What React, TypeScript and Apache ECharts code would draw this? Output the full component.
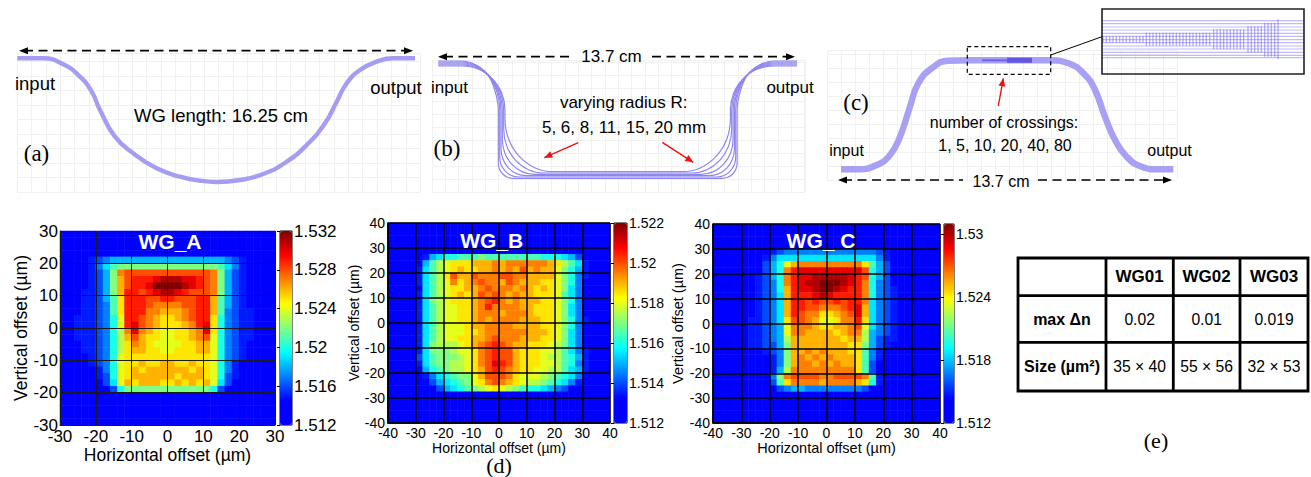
import React, { useEffect, useRef } from "react";
import * as echarts from "echarts";

const SANS = "Liberation Sans";
const SERIF = "Liberation Serif";

// ---- schematic waveguide outlines ----
const wgPathA = [[0.3,133.7],[26.3,133.7],[46.3,127.7],[63,115.3],[74.7,100.3],[83,82],[98,55.3],[116.3,38.7],[139.7,23.7],[163,15.3],[183,11.3],[199.7,10],[223,12],[246.3,18],[269.7,30.3],[289.7,47],[308,68.7],[319.7,90.3],[329.7,108.7],[343,122],[359.7,130.3],[376.3,133.7],[398,133.7]];

const wgPathsB = [
  [[6.3,131],[30,131],[44,127],[56,117],[63,101],[66.3,82],[66.3,28.7],[67.4,23],[70.7,18],[75.6,14.8],[81.3,13.7],[290.1,13.7],[295.8,14.8],[300.7,18],[304,23],[305.1,28.7],[305.1,82],[308.4,101],[315.4,117],[327.4,127],[341.4,131],[365.1,131]],
  [[6.3,130],[30,130],[44.4,126.4],[56.7,116],[64.8,100.4],[67.7,82],[67.7,35],[69.1,27.3],[73.3,20.9],[79.4,16.5],[86.7,15],[284.7,15],[292,16.5],[298.1,20.9],[302.3,27.3],[303.7,35],[303.7,82],[306.6,100.4],[314.7,116],[327,126.4],[341.4,130],[365.1,130]],
  [[6.3,129],[30,129],[45,125.4],[57.6,115.2],[66,100],[69,82],[69,43.3],[70.9,33],[76.3,24.2],[84.4,18.4],[94,16.3],[277.4,16.3],[287,18.4],[295.1,24.2],[300.5,33],[302.4,43.3],[302.4,82],[305.4,100],[313.8,115.2],[326.4,125.4],[341.4,129],[365.1,129]],
  [[6.3,128],[30,128],[45.4,124.5],[58.5,114.5],[67.2,99.6],[70.3,82],[70.3,52.7],[72.7,39.3],[79.7,27.9],[90,20.4],[102.3,17.7],[269.1,17.7],[281.4,20.4],[291.7,27.9],[298.7,39.3],[301.1,52.7],[301.1,82],[304.2,99.6],[312.9,114.5],[326,124.5],[341.4,128],[365.1,128]],
  [[6.3,127],[30,127],[46,123.6],[59.5,113.8],[68.5,99.2],[71.7,82],[71.7,63],[74.7,46.1],[83.4,31.9],[96.4,22.3],[111.7,19],[259.7,19],[275,22.3],[288,31.9],[296.7,46.1],[299.7,63],[299.7,82],[302.9,99.2],[311.9,113.8],[325.4,123.6],[341.4,127],[365.1,127]],
  [[6.3,126],[30,126],[46.5,122.7],[60.4,113],[69.7,98.9],[73,82],[73,73.3],[76.6,53],[87.1,35.8],[102.6,24.3],[121,20.3],[250.4,20.3],[268.8,24.3],[284.3,35.8],[294.8,53],[298.4,73.3],[298.4,82],[301.7,98.9],[311,113],[324.9,122.7],[341.4,126],[365.1,126]],
];

const wgPathC = [[14,10.7],[31.3,10.7],[49.7,15],[63,25],[73,43.3],[83,73.3],[91.3,96.7],[104.7,111.7],[121.3,119.3],[141.3,119.7],[221.3,119.7],[241.3,116.7],[258,105],[268,90],[278,63.3],[288,40],[299.7,23.3],[314.7,13.3],[331.3,10.7],[346.3,10.7]];
const crossThin = [[155,119.7],[180,119.7]];
const crossThick = [[180,119.7],[205,119.7]];

// inset of panel (c): waveguide levels and crossing bars
const insetLevels = [53.3,50.3,47,44,40.7,37.7,34.3,31.3,28,25,21.7,18.7,16.3];
const insetXs = [
  [1,4.3,7.7,11,14.3,17.7,21,24.3,27.7,31,34.3,37.7,41],
  [44.3,47.7,51,54.3,57.7,61,64.3,67.7,71,74.3,77.7,81,84.3,87.7,91,94.3,97.7,101,104.3,107.7],
  [111.7,115,118.3,121.7,125,128.3,131.7,135,138.3,141.7],
  [146,149.3,152.7,156,159.3],
  [162.7,166,169.3,172.7],
  [176],
];
const insetSpans = [[31.3,38],[28.3,41.3],[24.7,44.7],[21.3,48],[17.3,51.3],[14.7,54.7]];

// ---- refractive index maps, in steps above 1.512, rows from the top ----
const mapA = [
[0,0,0,0,0,0,0,0,0,0,0,0,0,0,0,0,0,0,0,0,0,0,0,0,0,0,0,0,0,0],
[0,0,0,0,0,0,0,0,0,0,0,0,0,0,0,0,0,0,0,0,0,0,0,0,0,0,0,0,0,0],
[0,0,0,0,0,0,0,0,0,0,0,0,0,0,0,0,0,0,0,0,0,0,0,0,0,0,0,0,0,0],
[0,0,0,0,0,1,2,2,2,2,2,2,2,2,2,2,2,2,2,2,2,2,2,2,1,0,0,0,0,0],
[0,0,0,1,3,4,5,6,6,6,6,6,6,6,6,6,6,6,6,6,6,6,6,5,4,3,1,0,0,0],
[0,0,0,2,3,5,7,9,10,10,10,10,10,10,10,10,10,10,10,10,10,10,9,7,5,3,2,0,0,0],
[0,0,1,2,3,4,6,10,15,16,16,16,16,16,16,16,16,16,16,16,16,15,10,6,4,3,2,1,0,0],
[0,0,1,2,3,4,6,10,14,16,17,17,17,18,19,19,19,18,18,17,16,15,10,6,4,3,2,1,0,0],
[0,0,1,2,3,4,6,10,14,16,17,17,18,20,20,20,20,19,18,17,16,15,10,6,4,3,2,1,0,0],
[0,1,2,3,3,4,6,10,14,17,17,16,17,18,19,19,18,17,16,16,16,15,10,6,4,3,2,1,0,0],
[0,1,2,3,3,4,6,9,13,17,17,17,16,16,17,17,16,16,16,17,17,14,9,6,4,3,2,1,0,0],
[1,2,2,3,3,4,5,9,13,17,17,17,16,15,15,15,15,16,16,17,17,14,9,6,4,3,2,1,0,0],
[2,2,2,3,3,4,5,9,13,17,17,17,15,15,14,14,14,15,16,17,17,14,9,5,4,3,3,2,1,0],
[2,2,3,3,3,4,5,8,12,17,17,16,15,14,13,13,14,15,16,17,17,13,8,5,4,3,3,2,1,0],
[2,2,3,3,3,4,5,8,12,17,18,16,15,14,13,13,13,14,15,17,18,13,8,5,4,3,3,2,2,1],
[2,2,3,3,3,4,5,8,11,15,18,15,14,13,12,12,13,13,14,15,18,13,8,5,4,3,3,2,2,1],
[2,2,3,3,3,4,5,8,11,14,16,14,13,13,12,12,13,13,14,15,16,12,8,5,4,3,3,2,2,1],
[1,2,2,3,3,4,5,8,11,13,15,14,13,12,12,12,12,13,13,14,14,12,8,5,4,3,2,2,1,1],
[0,1,2,3,3,4,5,8,11,13,14,14,13,13,12,12,13,13,13,14,14,12,8,5,4,3,2,1,0,0],
[0,0,1,2,3,4,5,8,12,13,13,13,13,13,13,13,13,13,13,13,13,12,8,5,4,3,2,1,0,0],
[0,0,1,2,3,4,5,8,12,13,13,14,13,13,14,14,13,13,14,13,13,12,8,5,3,2,1,0,0,0],
[0,0,0,1,2,3,5,8,12,13,14,13,14,14,14,14,14,14,13,14,13,12,8,5,3,2,1,0,0,0],
[0,0,0,1,2,3,4,8,12,13,14,14,14,14,14,14,13,14,14,14,13,12,8,4,3,2,0,0,0,0],
[0,0,0,0,1,2,4,7,12,14,13,14,14,14,13,13,14,13,14,13,14,12,7,4,2,1,0,0,0,0],
[0,0,0,0,0,1,2,4,8,10,10,10,10,10,10,10,10,10,10,10,10,8,4,2,1,0,0,0,0,0],
[0,0,0,0,0,0,0,0,0,0,0,0,0,0,0,0,0,0,0,0,0,0,0,0,0,0,0,0,0,0],
[0,0,0,0,0,0,0,0,0,0,0,0,0,0,0,0,0,0,0,0,0,0,0,0,0,0,0,0,0,0],
[0,0,0,0,0,0,0,0,0,0,0,0,0,0,0,0,0,0,0,0,0,0,0,0,0,0,0,0,0,0],
[0,0,0,0,0,0,0,0,0,0,0,0,0,0,0,0,0,0,0,0,0,0,0,0,0,0,0,0,0,0],
[0,0,0,0,0,0,0,0,0,0,0,0,0,0,0,0,0,0,0,0,0,0,0,0,0,0,0,0,0,0],
];

const mapB = [
[0,0,0,0,0,0,0,0,0,0,0,0,0,0,0,0,0,0,0,0,0,0,0,0,0,0,0,0,0,0,0,0],
[0,0,0,0,0,0,0,0,0,0,0,0,0,0,0,0,0,0,0,0,0,0,0,0,0,0,0,0,0,0,0,0],
[0,0,0,0,0,0,0,0,0,0,0,0,0,0,0,0,0,0,0,0,0,0,0,0,0,0,0,0,0,0,0,0],
[0,0,0,0,0,0,0,0,0,0,0,0,0,0,0,0,0,0,0,0,0,0,0,0,0,0,0,0,0,0,0,0],
[0,0,0,0,0,0,0,0,0,0,0,0,0,0,0,0,0,0,0,0,0,0,0,0,0,0,0,0,0,0,0,0],
[0,0,0,0,0,3,6,7,8,8,9,9,9,10,9,9,9,9,9,9,9,9,8,8,8,7,6,4,0,0,0,0],
[0,0,0,0,2,6,9,11,12,13,13,13,14,14,14,15,14,15,15,15,15,15,15,14,13,11,9,7,3,0,0,0],
[0,0,0,0,3,7,9,11,12,13,14,13,13,14,14,15,14,15,14,16,14,15,14,14,12,10,8,6,3,0,0,0],
[0,0,0,0,3,7,9,11,13,16,14,14,16,15,15,15,16,16,15,15,14,14,14,14,12,10,8,5,3,0,0,0],
[0,0,0,0,3,7,9,11,12,15,13,14,15,16,15,15,14,16,15,14,14,14,13,13,12,10,8,5,2,0,0,0],
[0,0,0,0,2,7,9,11,12,13,13,14,14,15,16,15,15,15,14,15,14,13,14,13,12,10,7,5,2,0,0,0],
[0,0,0,1,3,7,9,11,12,13,14,13,14,16,15,16,15,14,15,14,14,13,13,13,12,9,7,5,2,0,0,0],
[0,0,0,1,3,7,10,11,12,13,13,13,14,15,16,17,15,14,15,14,14,14,13,13,12,10,8,5,2,0,0,0],
[0,0,0,0,3,7,9,11,12,12,13,13,14,15,17,15,15,15,15,14,14,13,13,13,12,10,7,5,2,0,0,0],
[0,0,0,0,3,7,9,11,12,12,13,13,14,15,15,15,14,15,15,15,14,13,13,13,12,10,7,5,2,0,0,0],
[0,0,0,0,3,7,9,11,12,12,13,13,14,15,14,15,15,15,15,14,14,14,13,13,12,10,8,5,3,0,0,0],
[0,0,0,1,3,7,9,11,12,12,12,13,14,14,15,15,15,15,14,14,14,14,13,13,12,10,8,5,2,0,0,0],
[0,0,0,1,3,7,9,11,12,12,12,13,13,14,15,15,15,15,15,15,14,14,14,13,12,10,7,5,2,0,0,0],
[0,0,0,0,3,7,9,11,12,12,13,13,14,14,15,16,15,15,15,14,14,14,13,13,12,10,7,5,2,0,0,0],
[0,0,0,0,3,7,10,11,11,11,12,13,14,15,16,17,16,15,14,14,13,13,13,12,11,10,7,5,2,0,0,0],
[0,0,0,0,3,7,10,10,10,11,12,12,13,15,16,17,16,16,14,13,13,13,12,12,11,9,7,5,3,0,0,0],
[0,0,0,0,4,7,9,10,10,10,11,12,13,15,16,17,16,16,14,13,13,13,12,11,11,9,8,6,3,0,0,0],
[0,0,0,0,3,7,9,10,10,11,11,12,13,15,16,18,17,16,14,13,13,13,12,12,11,9,8,5,3,0,0,0],
[0,0,0,0,2,6,8,9,10,11,11,12,13,14,16,17,16,15,14,13,13,12,12,11,11,9,7,6,3,0,0,0],
[0,0,0,0,0,3,5,7,8,9,10,10,12,14,16,16,16,15,13,12,12,12,11,10,9,8,7,5,0,0,0,0],
[0,0,0,0,0,2,4,6,7,8,9,10,12,13,15,16,15,14,13,12,11,11,10,9,8,7,5,3,0,0,0,0],
[0,0,0,0,0,0,2,4,6,7,8,9,10,11,12,13,12,11,10,9,8,8,7,6,5,4,2,0,0,0,0,0],
[0,0,0,0,0,0,0,0,0,0,0,0,0,0,0,0,0,0,0,0,0,0,0,0,0,0,0,0,0,0,0,0],
[0,0,0,0,0,0,0,0,0,0,0,0,0,0,0,0,0,0,0,0,0,0,0,0,0,0,0,0,0,0,0,0],
[0,0,0,0,0,0,0,0,0,0,0,0,0,0,0,0,0,0,0,0,0,0,0,0,0,0,0,0,0,0,0,0],
[0,0,0,0,0,0,0,0,0,0,0,0,0,0,0,0,0,0,0,0,0,0,0,0,0,0,0,0,0,0,0,0],
[0,0,0,0,0,0,0,0,0,0,0,0,0,0,0,0,0,0,0,0,0,0,0,0,0,0,0,0,0,0,0,0],
];

const mapC = [
[0,0,0,0,0,0,0,0,0,0,0,0,0,0,0,0,0,0,0,0,0,0,0,0,0,0,0,0,0,0,0,0],
[0,0,0,0,0,0,0,0,0,0,0,0,0,0,0,0,0,0,0,0,0,0,0,0,0,0,0,0,0,0,0,0],
[0,0,0,0,0,0,0,0,0,0,0,0,0,0,0,0,0,0,0,0,0,0,0,0,0,0,0,0,0,0,0,0],
[0,0,0,0,0,0,0,0,0,0,0,0,0,0,0,0,0,0,0,0,0,0,0,0,0,0,0,0,0,0,0,0],
[0,0,0,0,0,0,0,0,3,4,5,5,5,5,5,5,5,5,5,5,5,5,5,4,3,0,0,0,0,0,0,0],
[0,0,0,0,0,0,1,3,5,7,7,7,7,7,7,7,7,7,7,7,7,7,7,5,3,1,0,0,0,0,0,0],
[0,0,0,0,0,0,2,4,6,8,12,14,15,15,15,15,15,15,15,15,15,13,9,6,4,2,0,0,0,0,0,0],
[0,0,0,0,0,0,2,4,6,8,15,17,18,18,18,18,18,18,18,18,18,16,8,6,4,2,0,0,0,0,0,0],
[0,0,0,0,0,1,3,4,6,8,15,17,18,18,19,19,19,19,19,18,17,16,8,6,4,2,1,0,0,0,0,0],
[0,0,0,0,0,1,3,4,5,8,15,17,18,19,19,20,20,20,19,18,17,15,8,5,4,2,1,0,0,0,0,0],
[0,0,0,0,0,1,3,4,5,8,14,17,18,18,19,20,20,19,18,17,17,15,8,5,4,3,1,0,0,0,0,0],
[0,0,0,0,1,2,3,4,5,7,14,17,17,17,18,19,18,17,17,17,17,15,8,5,4,3,2,0,0,0,0,0],
[0,0,0,0,1,2,3,4,5,7,14,17,17,16,17,16,16,17,16,17,17,15,7,5,4,3,2,0,0,0,0,0],
[0,0,0,0,1,2,3,4,5,7,14,17,17,16,16,15,15,15,16,17,18,14,7,5,4,3,2,0,0,0,0,0],
[0,0,0,1,2,2,3,4,5,7,14,17,16,15,15,13,13,14,15,16,18,14,7,5,4,3,2,1,0,0,0,0],
[0,0,0,2,2,3,3,4,5,7,13,16,16,15,14,12,12,13,15,15,17,13,7,5,4,3,2,1,0,0,0,0],
[0,0,0,2,2,3,3,4,5,6,12,15,15,15,14,13,13,14,14,15,16,12,7,5,4,3,2,1,0,0,0,0],
[0,0,0,2,2,3,3,4,5,6,12,15,15,14,14,14,14,13,14,15,15,11,6,5,4,3,2,0,0,0,0,0],
[0,0,0,1,2,3,3,4,5,6,11,14,14,14,14,14,14,14,13,14,14,11,6,4,3,3,1,0,0,0,0,0],
[0,0,0,1,2,3,3,4,4,6,10,14,14,14,14,14,14,14,14,13,13,10,6,4,3,2,0,0,0,0,0,0],
[0,0,0,0,0,1,2,3,4,5,10,14,14,15,14,15,14,14,14,13,13,9,5,3,2,0,0,0,0,0,0,0],
[0,0,0,0,0,0,1,2,3,5,10,14,15,14,15,14,15,14,14,14,13,9,5,3,1,0,0,0,0,0,0,0],
[0,0,0,0,0,0,0,1,3,5,10,14,15,15,14,15,14,15,14,14,13,9,4,2,0,0,0,0,0,0,0,0],
[0,0,0,0,0,0,0,1,3,6,11,15,15,15,15,15,15,15,15,15,13,9,4,2,0,0,0,0,0,0,0,0],
[0,0,0,0,0,0,0,1,5,10,15,16,16,16,16,15,15,16,16,16,16,15,9,3,0,0,0,0,0,0,0,0],
[0,0,0,0,0,0,0,1,4,9,13,15,15,15,15,14,15,15,15,15,14,13,8,3,0,0,0,0,0,0,0,0],
[0,0,0,0,0,0,0,0,1,4,5,6,6,5,5,5,5,5,5,5,5,4,2,0,0,0,0,0,0,0,0,0],
[0,0,0,0,0,0,0,0,0,0,0,0,0,0,0,0,0,0,0,0,0,0,0,0,0,0,0,0,0,0,0,0],
[0,0,0,0,0,0,0,0,0,0,0,0,0,0,0,0,0,0,0,0,0,0,0,0,0,0,0,0,0,0,0,0],
[0,0,0,0,0,0,0,0,0,0,0,0,0,0,0,0,0,0,0,0,0,0,0,0,0,0,0,0,0,0,0,0],
[0,0,0,0,0,0,0,0,0,0,0,0,0,0,0,0,0,0,0,0,0,0,0,0,0,0,0,0,0,0,0,0],
[0,0,0,0,0,0,0,0,0,0,0,0,0,0,0,0,0,0,0,0,0,0,0,0,0,0,0,0,0,0,0,0],
];

const tableHead = ["", "WG01", "WG02", "WG03"];
const tableMaxDn = ["max Δn", "0.02", "0.01", "0.019"];
const tableSize = ["Size (µm²)", "35 × 40", "55 × 56", "32 × 53"];

const jet = ["#0000ff","#0000ff","#0080ff","#00ffff","#80ff80","#ffff00","#ff8000","#ff0000","#800000"];

const heatPanels = [
  { map: mapA, step: 0.001, cbMax: 1.532, cbStep: 0.004, range: 30, box: [60, 231, 215, 194], bar: [280, 231, 12, 194], tick: 17, name: 17.5, grid: 1, color: "#1a1a1a", nameX: 17, nameY: 30, labelX: 2, labelB: 3, cbFont: 17, showTop: true },
  { map: mapB, step: 0.0005, cbMax: 1.522, cbStep: 0.002, range: 40, box: [388, 223, 222, 200], bar: [614, 223, 13, 200], tick: 14, name: 14, grid: 1.5, color: "#000", nameX: 14, nameY: 21, labelX: 3, labelB: 3, cbFont: 14, showTop: true },
  { map: mapC, step: 0.00095, cbMax: 1.531, cbStep: 0.006, range: 40, box: [713, 224, 227, 199], bar: [944, 224, 10, 199], tick: 14, name: 14.5, grid: 1.5, color: "#000", nameX: 14, nameY: 26, labelX: 3, labelB: 3, cbFont: 14, showTop: false },
];

const txt = (text: string, x: number, y: number, fontSize: number, opts: any = {}) => ({
  type: "text", x, y, z: 50, silent: true,
  style: { text, fontSize, fontFamily: opts.family || SANS, fontWeight: opts.weight || "normal", fill: opts.fill || "#000", align: opts.align || "center", verticalAlign: "middle" },
});

const arrowHead = (x1: number, y1: number, x2: number, y2: number, color: string, len: number, half: number) => {
  const a = Math.atan2(y2 - y1, x2 - x1);
  const bx = x2 - Math.cos(a) * len, by = y2 - Math.sin(a) * len;
  return {
    type: "polygon", z: 50, silent: true,
    shape: { points: [[x2, y2], [bx - Math.sin(a) * half, by + Math.cos(a) * half], [bx + Math.sin(a) * half, by - Math.cos(a) * half]] },
    style: { fill: color },
  };
};
const seg = (x1: number, y1: number, x2: number, y2: number, stroke: string, lineWidth: number, lineDash?: number[]) => ({
  type: "line", z: 50, silent: true, shape: { x1, y1, x2, y2 }, style: { stroke, lineWidth, lineDash, fill: "none" },
});
const redArrow = (x1: number, y1: number, x2: number, y2: number) => [seg(x1, y1, x2, y2, "#f01010", 1.4), arrowHead(x1, y1, x2, y2, "#f01010", 8, 3.5)];

function buildOption() {
  const grid: any[] = [], xAxis: any[] = [], yAxis: any[] = [], series: any[] = [], visualMap: any[] = [];

  const sketchGrid = (l: number, t: number, w: number, h: number, dx: number, dy: number) => {
    const gi = grid.length;
    grid.push({ left: l, top: t, width: w, height: h });
    const base = { type: "value", gridIndex: gi, min: 0, axisLabel: { show: false }, axisTick: { show: false }, axisLine: { show: false }, silent: true };
    xAxis.push({ ...base, max: w, interval: dx, splitLine: { show: dx > 0, lineStyle: { color: "#f0f0f0", width: 1 } } });
    yAxis.push({ ...base, max: h, interval: dy, splitLine: { show: dy > 0, lineStyle: { color: "#f0f0f0", width: 1 } } });
    return xAxis.length - 1;
  };
  const line = (ax: number, data: any[], color: string, width: number, smooth: any = 0.5) =>
    series.push({ type: "line", xAxisIndex: ax, yAxisIndex: ax, data, smooth, symbol: "none", silent: true, lineStyle: { color, width, cap: "butt", join: "round" }, connectNulls: false, z: 3 });

  const a = sketchGrid(17, 53, 403, 139, 14.4, 14.5);
  line(a, wgPathA, "#a59df2", 4.4);
  const b = sketchGrid(432, 60, 373, 132, 13.3, 13);
  wgPathsB.forEach((p) => line(b, p, "#8f87ee", 1.2, 0.3));
  const c = sketchGrid(827, 50, 350, 130, 14, 14);
  line(c, wgPathC, "#a8a0f5", 6.4);
  line(c, crossThin, "#6f65e6", 2, false);
  line(c, crossThick, "#6257e2", 5, false);

  const inset = sketchGrid(1102, 9, 202, 65, 0, 0);
  const hLines: any[] = [];
  insetLevels.forEach((y) => hLines.push([0, y], [202, y], ["-", "-"]));
  line(inset, hLines, "rgba(140,130,250,0.55)", 1.2, false);
  const vLines: any[] = [];
  insetXs.forEach((xs, i) => xs.forEach((x) => vLines.push([x, insetSpans[i][0]], [x, insetSpans[i][1]], ["-", "-"])));
  line(inset, vLines, "rgba(110,100,240,0.55)", 1.2, false);

  heatPanels.forEach((p) => {
    const [l, t, w, h] = p.box;
    const rows = p.map.length;
    const gi = grid.length;
    grid.push({ left: l, top: t, width: w, height: h });
    const catX = xAxis.length;
    xAxis.push({ type: "category", gridIndex: gi, show: false, data: p.map[0].map((_, i) => String(i)) });
    yAxis.push({ type: "category", gridIndex: gi, show: false, data: p.map.map((_, i) => String(i)) });
    const data: any[] = [];
    p.map.forEach((row, r) => row.forEach((v, col) => data.push([col, rows - 1 - r, 1.512 + v * p.step])));
    const si = series.length;
    series.push({ type: "heatmap", xAxisIndex: catX, yAxisIndex: catX, data, silent: true, progressive: 0, z: 2, itemStyle: { borderWidth: 0 } });

    const valAxis = {
      type: "value", gridIndex: gi, min: -p.range, max: p.range, interval: 10, z: 5, silent: true,
      axisLine: { show: true, onZero: false, lineStyle: { color: p.color, width: p.grid } },
      axisTick: { show: false },
      splitLine: { show: true, lineStyle: { color: p.color, width: p.grid } },
      nameLocation: "middle",
      nameTextStyle: { fontFamily: SANS, fontSize: p.name, color: "#000" },
    };
    xAxis.push({ ...valAxis, position: "bottom", name: "Horizontal offset (µm)", nameGap: p.nameX,
      axisLabel: { fontFamily: SANS, fontSize: p.tick, color: "#000", margin: p.labelB } });
    yAxis.push({ ...valAxis, position: "left", name: "Vertical offset (µm)", nameGap: p.nameY,
      axisLabel: { fontFamily: SANS, fontSize: p.tick, color: "#000", margin: p.labelX } });

    // colour bar
    const [bl, bt, bw, bh] = p.bar;
    const gb = grid.length;
    grid.push({ left: bl, top: bt, width: bw, height: bh, show: true, borderColor: "#000", borderWidth: 1, backgroundColor: "transparent" });
    xAxis.push({ type: "value", gridIndex: gb, show: false, min: 0, max: 1 });
    yAxis.push({
      type: "value", gridIndex: gb, position: "right", min: 1.512, max: p.cbMax, interval: p.cbStep, z: 6, silent: true,
      splitLine: { show: false },
      axisLine: { show: false },
      axisTick: { show: true, inside: true, length: 3, lineStyle: { color: "#000" } },
      axisLabel: { fontFamily: SANS, fontSize: p.cbFont, color: "#000", margin: 2, showMaxLabel: p.showTop,
        formatter: (v: number) => String(parseFloat(v.toFixed(3))) },
    });
    visualMap.push({
      type: "continuous", seriesIndex: si, min: 1.512, max: p.cbMax, left: bl, top: bt, itemWidth: bw, itemHeight: bh,
      padding: 0, text: null, calculable: false, hoverLink: false, orient: "vertical", inRange: { color: jet }, textStyle: { fontSize: 0 }, showLabel: false,
    });
  });

  const els: any[] = [];
  // (a)
  els.push(seg(24, 50.7, 408, 50.7, "#000", 1.8, [9, 5.5]));
  els.push(arrowHead(30, 50.7, 19, 50.7, "#000", 9, 3.5), arrowHead(402, 50.7, 413, 50.7, "#000", 9, 3.5));
  els.push(txt("input", 35, 83, 18.5), txt("output", 396, 87, 18.5), txt("WG length: 16.25 cm", 221, 115, 18.5), txt("(a)", 36.5, 153, 23, { family: SERIF }));
  // (b)
  els.push(seg(444, 56.7, 572, 56.7, "#000", 1.8, [9, 5.5]), seg(652, 56.7, 790, 56.7, "#000", 1.8, [9, 5.5]));
  els.push(arrowHead(448, 56.7, 438, 56.7, "#000", 9, 3.5), arrowHead(785, 56.7, 795, 56.7, "#000", 9, 3.5));
  els.push(txt("13.7 cm", 611.5, 56.5, 17), txt("input", 449.5, 87, 17), txt("output", 790, 87, 17));
  els.push(txt("varying radius R:", 623.7, 102.5, 17), txt("5, 6, 8, 11, 15, 20 mm", 624, 127, 17), txt("(b)", 447, 148, 23, { family: SERIF }));
  els.push(...redArrow(578.3, 142.7, 544.3, 157.7), ...redArrow(662.3, 142.3, 693.3, 162.3));
  // (c)
  els.push(seg(843, 180, 963, 180, "#000", 1.6, [9, 5.5]), seg(1038, 180, 1167, 180, "#000", 1.6, [9, 5.5]));
  els.push(arrowHead(848, 180, 838, 180, "#000", 9, 3.5), arrowHead(1162, 180, 1172, 180, "#000", 9, 3.5));
  els.push(txt("13.7 cm", 1001, 181, 16), txt("input", 846.5, 150, 16), txt("output", 1169.5, 150, 16));
  els.push(txt("number of crossings:", 1004, 122, 16), txt("1, 5, 10, 20, 40, 80", 1005, 145, 16), txt("(c)", 856, 102, 23, { family: SERIF }));
  els.push(...redArrow(998.3, 106, 1003.3, 78.3));
  els.push({ type: "rect", z: 50, silent: true, shape: { x: 967.3, y: 46.7, width: 83.4, height: 27.6 }, style: { fill: "none", stroke: "#000", lineWidth: 1.2, lineDash: [4, 3] } });
  els.push(seg(1050.7, 55, 1102, 36.7, "#000", 1));
  els.push({ type: "rect", z: 50, silent: true, shape: { x: 1102, y: 9, width: 202, height: 65 }, style: { fill: "none", stroke: "#222", lineWidth: 1.6 } });
  // heat-map titles and panel labels
  els.push(txt("WG_A", 170, 241.5, 21, { weight: "bold", fill: "#fff" }), txt("WG_B", 491.7, 240, 21, { weight: "bold", fill: "#fff" }), txt("WG_ C", 821, 240, 21, { weight: "bold", fill: "#fff" }));
  els.push(txt("(d)", 499, 465, 22, { family: SERIF }), txt("(e)", 1156, 440, 22, { family: SERIF }));
  // table
  const tx = [1018, 1106, 1173.3, 1240, 1308];
  const ty = [258, 295.7, 342.3, 391];
  const rowY = [276.7, 319, 366.5];
  els.push({ type: "rect", z: 50, silent: true, shape: { x: tx[0], y: ty[0], width: tx[4] - tx[0], height: ty[3] - ty[0] }, style: { fill: "none", stroke: "#000", lineWidth: 2.8 } });
  [1, 2, 3].forEach((i) => els.push(seg(tx[i], ty[0], tx[i], ty[3], "#000", 2.8)));
  [1, 2].forEach((i) => els.push(seg(tx[0], ty[i], tx[4], ty[i], "#000", 2.8)));
  [tableHead, tableMaxDn, tableSize].forEach((row, r) =>
    row.forEach((t, c) => {
      if (!t) return;
      const cx = (tx[c] + tx[c + 1]) / 2;
      const bold = r === 0 || c === 0;
      els.push(txt(t, cx, rowY[r], r === 0 ? 17 : 16 - (c === 0 ? 0 : 0.3), { weight: bold ? "bold" : "normal" }));
    })
  );

  return { animation: false, backgroundColor: "#fff", grid, xAxis, yAxis, series, visualMap, graphic: { elements: els } };
}

export default function App() {
  const ref = useRef<HTMLDivElement>(null);
  useEffect(() => {
    document.body.style.margin = "0";
    const chart = echarts.init(ref.current!, undefined, { renderer: "svg" });
    chart.setOption(buildOption() as any);
    return () => chart.dispose();
  }, []);
  return <div ref={ref} style={{ width: 1311, height: 477 }} />;
}
